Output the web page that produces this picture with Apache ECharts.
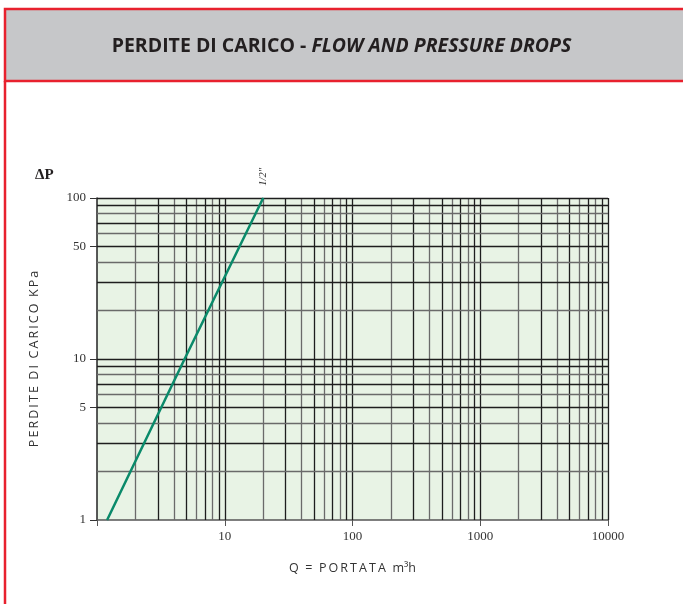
<!DOCTYPE html>
<html>
<head>
<meta charset="utf-8">
<script src="https://cdn.jsdelivr.net/npm/echarts@6/dist/echarts.min.js"></script>
<style>
html,body{margin:0;padding:0;background:#fff;}
#chart{width:683px;height:604px;}
</style>
</head>
<body>
<div id="chart"></div>
<script>
// ---- data ----
var flowQ = [1.2, 4.85, 20];          // m3/h
var pressureDrop = [1, 10, 100];      // kPa
var seriesName = '1/2"';
var yTickLabels = [1, 5, 10, 50, 100];
var xTickLabels = [10, 100, 1000, 10000];
var xDecades = [1, 10, 100, 1000];
var yDecades = [1, 10];
var multipliers = [2, 3, 4, 5, 6, 7, 8, 9];

var chart = echarts.init(document.getElementById('chart'));

function gridColor(m) { return (m % 2 === 1) ? '#1e1e1e' : '#6a6a6a'; }
function spaced(s) { return s.split('').join('\u2009'); }

var vLines = [];
xDecades.forEach(function (d) {
  multipliers.forEach(function (m) {
    vLines.push({ xAxis: d * m, lineStyle: { color: gridColor(m), width: 1.3, type: 'solid' } });
  });
  if (d > 1) vLines.push({ xAxis: d, lineStyle: { color: '#1e1e1e', width: 1.3, type: 'solid' } });
});
vLines.push({ xAxis: 10000, lineStyle: { color: '#1e1e1e', width: 1.3, type: 'solid' } });

var hLines = [];
yDecades.forEach(function (d) {
  multipliers.forEach(function (m) {
    hLines.push({ yAxis: d * m, lineStyle: { color: gridColor(m), width: 1.3, type: 'solid' } });
  });
  if (d > 1) hLines.push({ yAxis: d, lineStyle: { color: '#1e1e1e', width: 1.3, type: 'solid' } });
});
hLines.push({ yAxis: 100, lineStyle: { color: '#1e1e1e', width: 1.3, type: 'solid' } });

var pts = flowQ.map(function (q, i) { return [q, pressureDrop[i]]; });

var option = {
  backgroundColor: '#ffffff',
  animation: false,
  title: {
    text: '{a|PERDITE DI CARICO - }{b|FLOW AND PRESSURE DROPS}',
    left: 'center',
    top: 31,
    textStyle: {
      rich: {
        a: { fontFamily: 'Open Sans', fontWeight: 'bold', fontSize: 19.5, color: '#231f20' },
        b: { fontFamily: 'Open Sans', fontWeight: 'bold', fontStyle: 'italic', fontSize: 19.5, color: '#231f20' }
      }
    }
  },
  graphic: [
    { type: 'rect', z: -10, shape: { x: 5, y: 9, width: 690, height: 72 }, style: { fill: '#c6c7c9', stroke: '#e8212e', lineWidth: 2.5 } },
    { type: 'line', z: -9, shape: { x1: 5, y1: 81, x2: 5, y2: 610 }, style: { stroke: '#e8212e', lineWidth: 2.5 } },
    { type: 'text', left: 35, top: 168, style: { text: '\u0394P', fontFamily: 'Liberation Serif', fontWeight: 'bold', fontSize: 15, fill: '#231f20' } }
  ],
  grid: { left: 97, top: 198, width: 511, height: 322, show: true, backgroundColor: '#e8f3e5', borderWidth: 0 },
  xAxis: {
    type: 'log',
    logBase: 10,
    min: 1,
    max: 10000,
    name: spaced('Q') + '  =  ' + spaced('PORTATA') + '  m\u00b3h',
    nameLocation: 'middle',
    nameGap: 42,
    nameTextStyle: { fontFamily: 'Open Sans', fontSize: 12.5, color: '#333' },
    axisLine: { show: true, lineStyle: { color: '#555', width: 1.5 } },
    axisTick: { show: true, length: 6, lineStyle: { color: '#555' } },
    axisLabel: {
      fontFamily: 'Liberation Serif', fontSize: 13, color: '#333', margin: 10,
      formatter: function (v) { return xTickLabels.indexOf(v) >= 0 ? String(v) : ''; }
    },
    splitLine: { show: false }
  },
  yAxis: {
    type: 'log',
    logBase: 10,
    min: 1,
    max: 100,
    name: spaced('PERDITE') + '  ' + spaced('DI') + '  ' + spaced('CARICO') + '  ' + spaced('KPa'),
    nameLocation: 'middle',
    nameGap: 56,
    nameTextStyle: { fontFamily: 'Open Sans', fontSize: 12.5, color: '#333' },
    axisLine: { show: true, lineStyle: { color: '#222', width: 1.5 } },
    axisTick: { show: true, length: 7, lineStyle: { color: '#333' }, customValues: yTickLabels },
    axisLabel: { fontFamily: 'Liberation Serif', fontSize: 13, color: '#333', margin: 11, customValues: yTickLabels },
    splitLine: { show: false }
  },
  series: [
    {
      type: 'line',
      name: 'grid',
      data: pts,
      showSymbol: false,
      silent: true,
      z: 1,
      lineStyle: { opacity: 0 },
      markLine: {
        silent: true,
        symbol: ['none', 'none'],
        label: { show: false },
        animation: false,
        data: vLines.concat(hLines)
      }
    },
    {
      type: 'line',
      name: seriesName,
      data: pts,
      z: 10,
      clip: false,
      showSymbol: true,
      symbol: 'circle',
      symbolSize: 0.5,
      itemStyle: { color: '#0a8a6a' },
      lineStyle: { color: '#0a8a6a', width: 2.5 },
      labelLayout: { hideOverlap: false },
      label: {
        show: true,
        position: 'top',
        rotate: 90,
        distance: 12,
        align: 'left',
        verticalAlign: 'middle',
        fontFamily: 'Liberation Serif',
        fontStyle: 'italic',
        fontSize: 10.5,
        color: '#333',
        formatter: function (p) { return p.dataIndex === flowQ.length - 1 ? seriesName : ''; }
      }
    }
  ]
};
chart.setOption(option);
</script>
</body>
</html>
